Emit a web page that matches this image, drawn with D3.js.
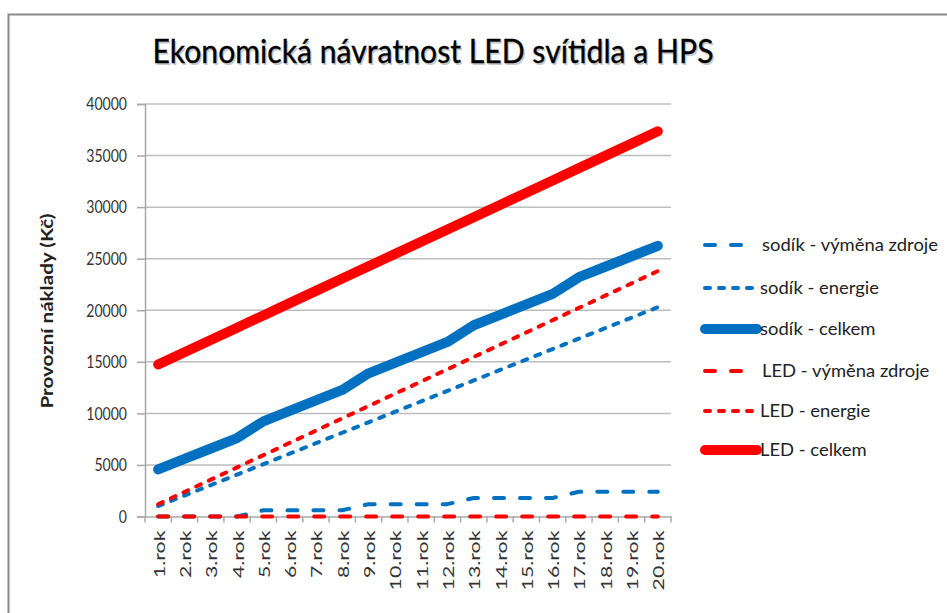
<!DOCTYPE html>
<html><head><meta charset="utf-8">
<script src="https://cdn.jsdelivr.net/npm/d3@7/dist/d3.min.js"></script>
<style>
html,body{margin:0;padding:0;background:#fff;}
svg{display:block;font-family:Lato, "Open Sans", sans-serif;}
</style></head>
<body>
<svg id="chart" width="947" height="613"></svg>
<script>
const categories = ["1.rok","2.rok","3.rok","4.rok","5.rok","6.rok","7.rok","8.rok","9.rok","10.rok",
  "11.rok","12.rok","13.rok","14.rok","15.rok","16.rok","17.rok","18.rok","19.rok","20.rok"];
const sodikVymena = [0,0,0,0,600,600,600,600,1200,1200,1200,1200,1800,1800,1800,1800,2400,2400,2400,2400];
const sodikEnergie = [1015,2030,3045,4060,5075,6090,7105,8120,9135,10150,11165,12180,13195,14210,15225,16240,17255,18270,19285,20300];
const sodikCelkem = [4565,5580,6595,7610,9225,10240,11255,12270,13885,14900,15915,16930,18545,19560,20575,21590,23205,24220,25235,26250];
const ledVymena = [0,0,0,0,0,0,0,0,0,0,0,0,0,0,0,0,0,0,0,0];
const ledEnergie = [1190,2380,3570,4760,5950,7140,8330,9520,10710,11900,13090,14280,15470,16660,17850,19040,20230,21420,22610,23800];
const ledCelkem = [14740,15930,17120,18310,19500,20690,21880,23070,24260,25450,26640,27830,29020,30210,31400,32590,33780,34970,36160,37350];
const yTicks = [0,5000,10000,15000,20000,25000,30000,35000,40000];
const seriesNames = ["sodík - výměna zdroje","sodík - energie","sodík - celkem","LED - výměna zdroje","LED - energie","LED - celkem"];
const title = "Ekonomická návratnost LED svítidla a HPS";
const yTitle = "Provozní náklady (Kč)";

const BLUE = "#0070C0", RED = "#FF0000";
const styles = [
  {color:BLUE, width:4, dash:"10,16"},
  {color:BLUE, width:4, dash:"5,9"},
  {color:BLUE, width:10, dash:null},
  {color:RED, width:4, dash:"10,16"},
  {color:RED, width:4, dash:"5,9"},
  {color:RED, width:10, dash:null}
];
const seriesData = [sodikVymena, sodikEnergie, sodikCelkem, ledVymena, ledEnergie, ledCelkem];

const svg = d3.select("#chart");
svg.append("rect").attr("width",947).attr("height",613).attr("fill","#fff");
// outer frame
svg.append("rect").attr("x",8.5).attr("y",14.5).attr("width",1000).attr("height",700)
  .attr("fill","none").attr("stroke","#8a8a8a").attr("stroke-width",2);

// title (with faint shadow)
svg.append("text").attr("x",434.5).attr("y",64.5).attr("text-anchor","middle")
  .attr("font-size",32).attr("fill","#c8c8c8").attr("textLength",561).attr("lengthAdjust","spacingAndGlyphs")
  .text(title);
svg.append("text").attr("x",433).attr("y",63).attr("text-anchor","middle")
  .attr("font-size",32).attr("fill","#000").attr("stroke","#000").attr("stroke-width",0.35)
  .attr("textLength",561).attr("lengthAdjust","spacingAndGlyphs")
  .text(title);

const x = d3.scaleBand().domain(categories).range([145,671]).padding(0);
const y = d3.scaleLinear().domain([0,40000]).range([516.5,104]);
const cx = c => x(c) + x.bandwidth()/2;

// gridlines
svg.append("g").selectAll("line").data(yTicks.filter(t=>t>0)).join("line")
  .attr("x1",145).attr("x2",671).attr("y1",d=>y(d)).attr("y2",d=>y(d))
  .attr("stroke","#bdbdbd").attr("stroke-width",1.5);

// y axis
const yAxis = svg.append("g").attr("transform","translate(145,0)")
  .call(d3.axisLeft(y).tickValues(yTicks).tickSize(8).tickPadding(10).tickFormat(d3.format("d")));
yAxis.select(".domain").attr("stroke","#a8a8a8").attr("stroke-width",1.5);
yAxis.selectAll(".tick line").attr("stroke","#a8a8a8").attr("stroke-width",1.5);
yAxis.selectAll(".tick text").attr("font-size",18).attr("fill","#333").attr("font-family","Lato, sans-serif")
  .each(function(){ const w=this.getComputedTextLength(); this.setAttribute("textLength", w*0.78); this.setAttribute("lengthAdjust","spacingAndGlyphs"); });

// x axis
const xAxis = svg.append("g").attr("transform","translate(0,516.5)")
  .call(d3.axisBottom(x).tickSize(0).tickPadding(0));
xAxis.select(".domain").attr("stroke","#a8a8a8").attr("stroke-width",1.5);
xAxis.selectAll(".tick text")
  .attr("font-size",16).attr("fill","#333").attr("font-family","Lato, sans-serif")
  .attr("text-anchor","end").attr("dy",null)
  .attr("transform","translate(0,14) rotate(-90)")
  .attr("x",0).attr("y",0).attr("dominant-baseline","central")
  .each(function(){ const w=this.getComputedTextLength(); this.setAttribute("textLength", w*1.33); this.setAttribute("lengthAdjust","spacingAndGlyphs"); });
// x tick marks at category boundaries
const bounds = categories.map(c=>x(c)).concat([x(categories[categories.length-1])+x.bandwidth()]);
svg.append("g").selectAll("line").data(bounds).join("line")
  .attr("x1",d=>d).attr("x2",d=>d).attr("y1",516.5).attr("y2",522.5)
  .attr("stroke","#a8a8a8").attr("stroke-width",1.5);

// y title
svg.append("text").attr("transform","translate(53,311) rotate(-90)").attr("text-anchor","middle")
  .attr("font-size",17).attr("font-weight","bold").attr("fill","#222")
  .attr("textLength",195).attr("lengthAdjust","spacingAndGlyphs")
  .text(yTitle);

// lines
const line = d3.line().x((d,i)=>cx(categories[i])).y(d=>y(d));
seriesData.forEach((vals,k)=>{
  const s = styles[k];
  svg.append("path").datum(vals).attr("d",line)
    .attr("fill","none").attr("stroke",s.color).attr("stroke-width",s.width)
    .attr("stroke-linecap","round").attr("stroke-linejoin","round")
    .attr("stroke-dasharray",s.dash);
});

// legend
const legendY = [245,288,329,371,411,450];
const leg = svg.append("g");
let legScale = null;
seriesNames.forEach((name,k)=>{
  const s = styles[k];
  const isVym = (k===0||k===3);
  leg.append("line").attr("x1",705).attr("x2",isVym?745:757)
    .attr("y1",legendY[k]).attr("y2",legendY[k])
    .attr("stroke",s.color).attr("stroke-width",s.width)
    .attr("stroke-linecap","round").attr("stroke-dasharray",s.dash);
  const t = leg.append("text").attr("x",isVym?762:760).attr("y",legendY[k]).attr("dy","0.35em")
    .attr("font-size",18).attr("fill","#222").text(name);
  const w = t.node().getComputedTextLength();
  if (legScale === null) legScale = 176 / w;
  t.attr("textLength", w*legScale).attr("lengthAdjust","spacingAndGlyphs");
});
</script>
</body></html>
